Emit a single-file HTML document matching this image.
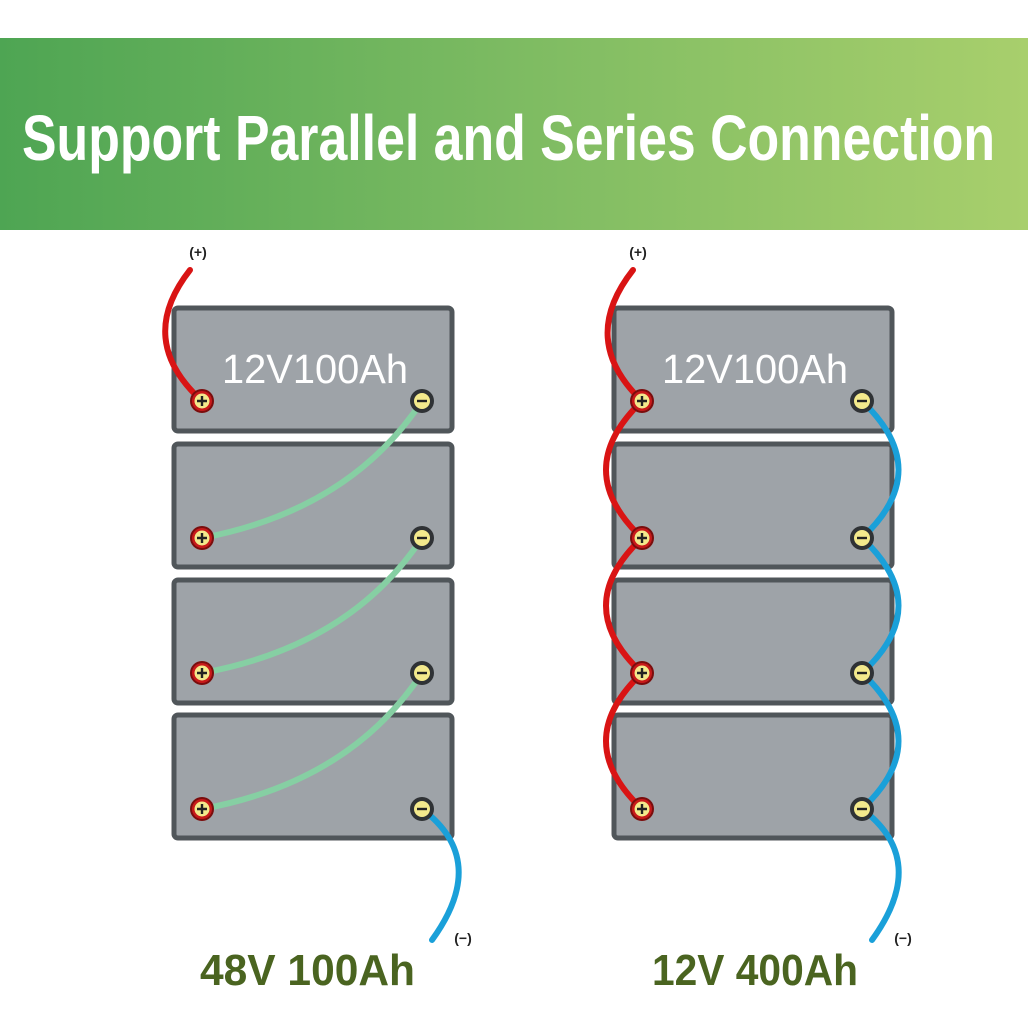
<!DOCTYPE html>
<html><head><meta charset="utf-8"><style>
html,body{margin:0;padding:0;background:#fff;}
svg{display:block;}
</style></head><body>
<svg width="1028" height="1028" viewBox="0 0 1028 1028" xmlns="http://www.w3.org/2000/svg">
<defs>
<linearGradient id="g" x1="0" x2="1" y1="0" y2="0">
<stop offset="0" stop-color="#4ea553"/>
<stop offset="0.5" stop-color="#7dbb62"/>
<stop offset="1" stop-color="#a8cf6c"/>
</linearGradient>
<g id="bat"><rect x="0" y="0" width="278" height="123" rx="4" fill="#9ea3a8" stroke="#50565a" stroke-width="5"/></g>
<g id="pos"><circle r="12" fill="#7a0d0d"/><circle r="10" fill="#c8191a"/><circle r="7.5" fill="#f3e98c"/><path d="M-5 0H5M0 -5V5" stroke="#222" stroke-width="2.4"/></g>
<g id="neg"><circle r="12" fill="#2f3235"/><circle r="8" fill="#f3e98c"/><path d="M-5 0H5" stroke="#222" stroke-width="2.4"/></g>
</defs>
<rect x="0" y="38" width="1028" height="192" fill="url(#g)"/>
<text x="22" y="160" font-family="Liberation Sans Narrow, Liberation Sans, sans-serif" font-weight="bold" font-size="64" fill="#fff" textLength="973" lengthAdjust="spacingAndGlyphs">Support Parallel and Series Connection</text>

<!-- left stack -->
<use href="#bat" x="174" y="308"/>
<use href="#bat" x="174" y="444"/>
<use href="#bat" x="174" y="580"/>
<use href="#bat" x="174" y="715"/>
<text x="222" y="383" font-family="Liberation Sans, sans-serif" font-size="41" fill="#fff" textLength="186" lengthAdjust="spacingAndGlyphs">12V100Ah</text>
<g fill="none" stroke-width="6" stroke-linecap="round">
<path d="M190 270 Q135 340 202 401" stroke="#d91414"/>
<path d="M422 401 Q350 510 202 538" stroke="#86cfa3"/>
<path d="M422 538 Q350 646 202 673" stroke="#86cfa3"/>
<path d="M422 673 Q350 782 202 809" stroke="#86cfa3"/>
<path d="M422 809 Q490 860 432 940" stroke="#1aa0d9"/>
</g>
<use href="#pos" x="202" y="401"/><use href="#neg" x="422" y="401"/>
<use href="#pos" x="202" y="538"/><use href="#neg" x="422" y="538"/>
<use href="#pos" x="202" y="673"/><use href="#neg" x="422" y="673"/>
<use href="#pos" x="202" y="809"/><use href="#neg" x="422" y="809"/>
<text x="198" y="257" text-anchor="middle" font-family="Liberation Sans, sans-serif" font-weight="bold" font-size="14" fill="#222">(+)</text>
<text x="463" y="943" text-anchor="middle" font-family="Liberation Sans, sans-serif" font-weight="bold" font-size="14" fill="#222">(−)</text>

<!-- right stack -->
<use href="#bat" x="614" y="308"/>
<use href="#bat" x="614" y="444"/>
<use href="#bat" x="614" y="580"/>
<use href="#bat" x="614" y="715"/>
<text x="662" y="383" font-family="Liberation Sans, sans-serif" font-size="41" fill="#fff" textLength="186" lengthAdjust="spacingAndGlyphs">12V100Ah</text>
<g fill="none" stroke-width="6" stroke-linecap="round">
<path d="M633 270 Q578 340 642 401" stroke="#d91414"/>
<path d="M642 401 Q570 470 642 538" stroke="#d91414"/>
<path d="M642 538 Q570 606 642 673" stroke="#d91414"/>
<path d="M642 673 Q570 741 642 809" stroke="#d91414"/>
<path d="M862 401 Q935 470 862 538" stroke="#1aa0d9"/>
<path d="M862 538 Q935 606 862 673" stroke="#1aa0d9"/>
<path d="M862 673 Q935 741 862 809" stroke="#1aa0d9"/>
<path d="M862 809 Q930 860 872 940" stroke="#1aa0d9"/>
</g>
<use href="#pos" x="642" y="401"/><use href="#neg" x="862" y="401"/>
<use href="#pos" x="642" y="538"/><use href="#neg" x="862" y="538"/>
<use href="#pos" x="642" y="673"/><use href="#neg" x="862" y="673"/>
<use href="#pos" x="642" y="809"/><use href="#neg" x="862" y="809"/>
<text x="638" y="257" text-anchor="middle" font-family="Liberation Sans, sans-serif" font-weight="bold" font-size="14" fill="#222">(+)</text>
<text x="903" y="943" text-anchor="middle" font-family="Liberation Sans, sans-serif" font-weight="bold" font-size="14" fill="#222">(−)</text>

<text x="200" y="985" font-family="Liberation Sans Narrow, Liberation Sans, sans-serif" font-weight="bold" font-size="44" fill="#4a6420" textLength="215" lengthAdjust="spacingAndGlyphs">48V 100Ah</text>
<text x="652" y="985" font-family="Liberation Sans Narrow, Liberation Sans, sans-serif" font-weight="bold" font-size="44" fill="#4a6420" textLength="206" lengthAdjust="spacingAndGlyphs">12V 400Ah</text>
</svg>
</body></html>
